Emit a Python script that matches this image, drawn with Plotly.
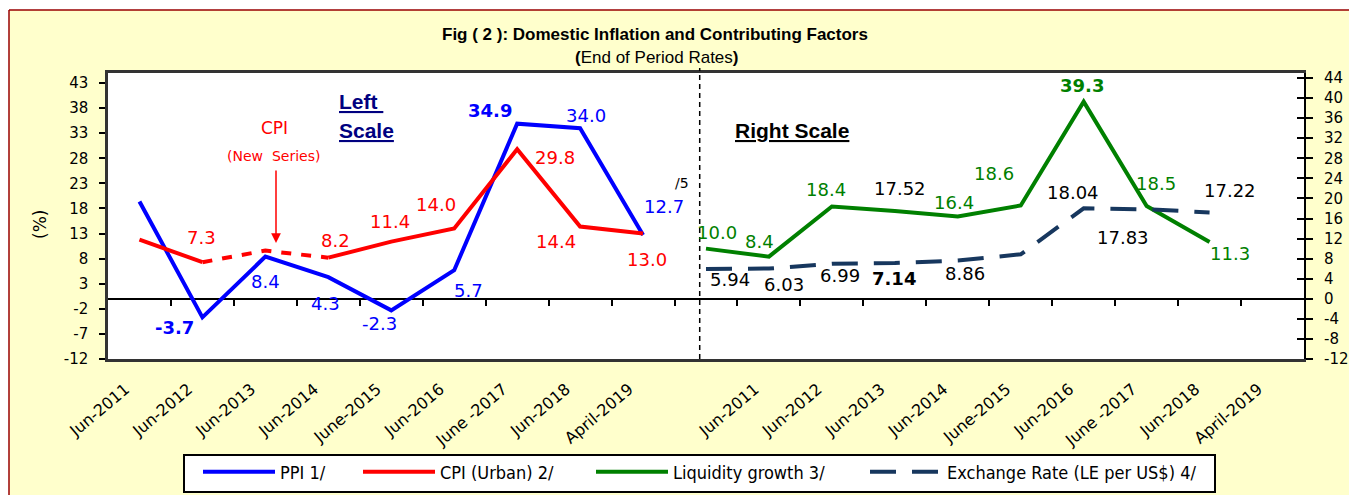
import plotly.graph_objects as go

# ---------------- data ----------------
periods = ["Jun-2011", "Jun-2012", "Jun-2013", "Jun-2014", "June-2015",
           "Jun-2016", "June -2017", "Jun-2018", "April-2019"]
ppi = [19.4, -3.7, 8.4, 4.3, -2.3, 5.7, 34.9, 34.0, 12.7]
cpi = [11.8, 7.3, 9.6, 8.2, 11.4, 14.0, 29.8, 14.4, 13.0]
liquidity = [10.0, 8.4, 18.4, 17.52, 16.4, 18.6, 39.3, 18.5, 11.3]
exchange = [5.94, 6.03, 6.99, 7.14, 7.63, 8.86, 18.04, 17.83, 17.22]
left_ticks = list(range(-12, 44, 5))
right_ticks = list(range(-12, 45, 4))

# label styling (which values are labelled, offsets in px, bold)
ppi_lab = [None, (-28, -10, True), (0, -25, False), (-3, -26, False), (-12, -13, False),
           (14, -20, False), (-27, 13, True), (6, 13, False), (21, 29, False)]
cpi_lab = [None, (-1, 25, False), None, (7, 17, False), (-1, 20, False),
           (-18, 24, False), (38, -8, False), (-24, -15, False), (4, -26, False)]
liq_lab = [(11, 16, False), (-9, 15, False), (-6, 17, False), (5, 22, False), (-4, 14, False),
           (-27, 32, False), (-2, 16, True), (9, 22, False), (20, -11, False)]
liq_col = ["#008000", "#008000", "#008000", "#000000", "#008000",
           "#008000", "#008000", "#008000", "#008000"]
exc_lab = [(24, -11, False), (15, -16, False), (8, -12, False), (-1, -16, True), None,
           (-56, -19, False), (-11, 16, False), (-24, -28, False), (20, 22, False)]

BLUE, RED, GREEN, NAVY = "#0000FF", "#FF0000", "#008000", "#17375E"
LBL_FONT = "DejaVu Sans, Verdana, sans-serif"
ARIAL = "Liberation Sans, Arial, sans-serif"
W, H = 1349, 495
L, R, T, B = 108, 45, 73, 136
PW, PH = W - L - R, H - T - B


def px(x):
    return (x - L) / PW


def py(y):
    return (H - B - y) / PH


def fmt(v):
    return f"{v:.1f}" if round(v, 1) == v else f"{v:.2f}"


xl = list(range(9))
xr = [i + 9 for i in range(9)]

fig = go.Figure()
fig.add_trace(go.Scatter(x=xl, y=ppi, mode="lines", name="PPI 1/",
                         line=dict(color=BLUE, width=4), legend="legend"))
# CPI: solid parts and dashed "new series" part (Jun-2012 .. Jun-2014)
cpi_solid = cpi[:2] + [None] + cpi[3:]
fig.add_trace(go.Scatter(x=xl, y=cpi_solid, mode="lines", name="CPI (Urban) 2/",
                         line=dict(color=RED, width=4), connectgaps=False, legend="legend2"))
fig.add_trace(go.Scatter(x=xl[1:4], y=cpi[1:4], mode="lines", showlegend=False,
                         line=dict(color=RED, width=4, dash="10px,10px"), yaxis="y3"))
fig.add_trace(go.Scatter(x=xr, y=liquidity, mode="lines", name="Liquidity growth 3/",
                         line=dict(color=GREEN, width=4), xaxis="x2", yaxis="y2",
                         legend="legend3"))
fig.add_trace(go.Scatter(x=xr, y=exchange, mode="lines", name="Exchange Rate (LE per US$) 4/",
                         line=dict(color=NAVY, width=4, dash="26px,16px"),
                         xaxis="x2", yaxis="y2", legend="legend4"))

ann = []


def add_labels(xs, vals, labs, color, colors=None):
    for i, (x, v, lab) in enumerate(zip(xs, vals, labs)):
        if lab is None:
            continue
        dx, dy, bold = lab
        t = fmt(v)
        if bold:
            t = "<b>" + t + "</b>"
        c = colors[i] if colors else color
        ann.append(dict(x=x, y=v, xref="x", yref="y", text=t, showarrow=False,
                        xanchor="center", yanchor="middle",
                        xshift=dx, yshift=dy, font=dict(color=c, size=18, family=LBL_FONT)))


add_labels(xl, ppi, ppi_lab, BLUE)
add_labels(xl, cpi, cpi_lab, RED)
add_labels(xr, liquidity, liq_lab, GREEN, colors=liq_col)
add_labels(xr, exchange, exc_lab, "#000000")


def txt(x, y, text, font, xanchor="center", **kw):
    d = dict(x=px(x), y=py(y), xref="paper", yref="paper", showarrow=False,
             xanchor=xanchor, yanchor="middle", text=text, font=font)
    d.update(kw)
    return d


ann += [
    txt(655, 35, "<b>Fig ( 2 ): Domestic Inflation and Contributing Factors</b>",
        dict(family=ARIAL, size=17, color="black")),
    txt(657, 58, "<b>(</b>End of Period Rates<b>)</b>", dict(family=ARIAL, size=17, color="black")),
    txt(40, 225, "(%)", dict(family=LBL_FONT, size=17, color="black"), textangle=-90),
    txt(337, 101, "<b><u>Left </u></b>", dict(family=ARIAL, size=21, color="#000080"),
        xanchor="left"),
    txt(337, 130, "<b><u>Scale</u></b>", dict(family=ARIAL, size=21, color="#000080"),
        xanchor="left"),
    txt(792, 130, "<b><u>Right Scale</u></b>", dict(family=ARIAL, size=21, color="black")),
    txt(274, 128, "CPI", dict(family=LBL_FONT, size=17, color=RED)),
    txt(273, 156, "(New  Series)", dict(family=LBL_FONT, size=14, color=RED)),
    txt(682, 183, "/5", dict(family=LBL_FONT, size=14, color="black")),
    dict(x=px(276), y=py(243), xref="paper", yref="paper", showarrow=True, text="",
         ax=0, ay=-74, arrowhead=2, arrowsize=1.3, arrowwidth=1.5, arrowcolor=RED),
]

shapes = [
    # white margin strip at top/left and maroon page border
    dict(type="rect", xref="paper", yref="paper", x0=px(0), x1=px(W), y0=py(10), y1=py(0),
         fillcolor="white", line=dict(width=0), layer="below"),
    dict(type="rect", xref="paper", yref="paper", x0=px(0), x1=px(9), y0=py(H), y1=py(0),
         fillcolor="white", line=dict(width=0), layer="below"),
    dict(type="line", xref="paper", yref="paper", x0=px(9), x1=px(W), y0=py(10), y1=py(10),
         line=dict(color="#990000", width=1.5)),
    dict(type="line", xref="paper", yref="paper", x0=px(9), x1=px(9), y0=py(10), y1=py(H),
         line=dict(color="#990000", width=1.5)),
    # legend box
    dict(type="rect", xref="paper", yref="paper", x0=px(184), x1=px(1215), y0=py(492), y1=py(455),
         fillcolor="white", line=dict(color="black", width=2), layer="below"),
    # separator between left and right scale
    dict(type="line", xref="x", yref="paper", x0=8.9, x1=8.9, y0=0, y1=py(68),
         line=dict(color="black", width=1.5, dash="5px,4px")),
]

leg_font = dict(family="Liberation Sans Narrow, DejaVu Sans Condensed, Arial Narrow, sans-serif",
                size=18, color="black")


def leg(xp):
    return dict(x=xp / W, y=1 - 472 / H, xref="container", yref="container",
                xanchor="left", yanchor="middle",
                bgcolor="rgba(0,0,0,0)", borderwidth=0, font=leg_font, itemwidth=72,
                orientation="h")


fig.update_layout(
    width=W, height=H, autosize=False,
    margin=dict(l=L, r=R, t=T, b=B, pad=0, autoexpand=False),
    paper_bgcolor="#FFFFCC", plot_bgcolor="white",
    showlegend=True,
    legend=leg(198), legend2=leg(358), legend3=leg(591), legend4=leg(865),
    annotations=ann, shapes=shapes,
    xaxis=dict(range=[-0.5, 18.5], tickvals=list(range(19)),
               ticktext=periods + [""] + periods, tickangle=-40,
               tickfont=dict(family=LBL_FONT, size=16, color="black"),
               ticks="", ticklabelstandoff=12, ticklabelshift=-14,
               showline=True, linecolor="#333333", linewidth=2.5, mirror=True,
               showgrid=False, zeroline=False),
    xaxis2=dict(overlaying="x", anchor="free", position=py(298.8), side="bottom",
                range=[-0.5, 18.5], tickvals=[i + 0.5 for i in range(18)],
                ticks="outside", ticklen=6, tickwidth=2, tickcolor="black",
                showticklabels=False, showline=False, showgrid=False, zeroline=False),
    yaxis=dict(range=[-12, 45], tickvals=left_ticks, ticktext=[str(v) for v in left_ticks],
               tickfont=dict(family=LBL_FONT, size=15, color="black"),
               ticks="outside", ticklen=6, tickwidth=2, tickcolor="black",
               ticklabelstandoff=8,
               showline=True, linecolor="#333333", linewidth=2.5,
               showgrid=False, zeroline=True, zerolinecolor="black", zerolinewidth=2),
    yaxis2=dict(overlaying="y", side="right", range=[-12, 45], tickvals=right_ticks,
                ticktext=[str(v) for v in right_ticks],
                tickfont=dict(family=LBL_FONT, size=15, color="black"),
                ticks="outside", ticklen=7, tickwidth=2, tickcolor="black",
                ticklabelstandoff=8,
                showline=True, linecolor="black", linewidth=2,
                showgrid=False, zeroline=False),
    yaxis3=dict(overlaying="y", side="right", range=[-12, 45], tickvals=right_ticks,
                ticks="inside", ticklen=7, tickwidth=2, tickcolor="black",
                showticklabels=False, showline=False, showgrid=False, zeroline=False),
)

fig.write_html("out.html", config={"displayModeBar": False},
               post_script="document.body.style.margin='0px';"
                           "document.body.style.overflow='hidden';")
